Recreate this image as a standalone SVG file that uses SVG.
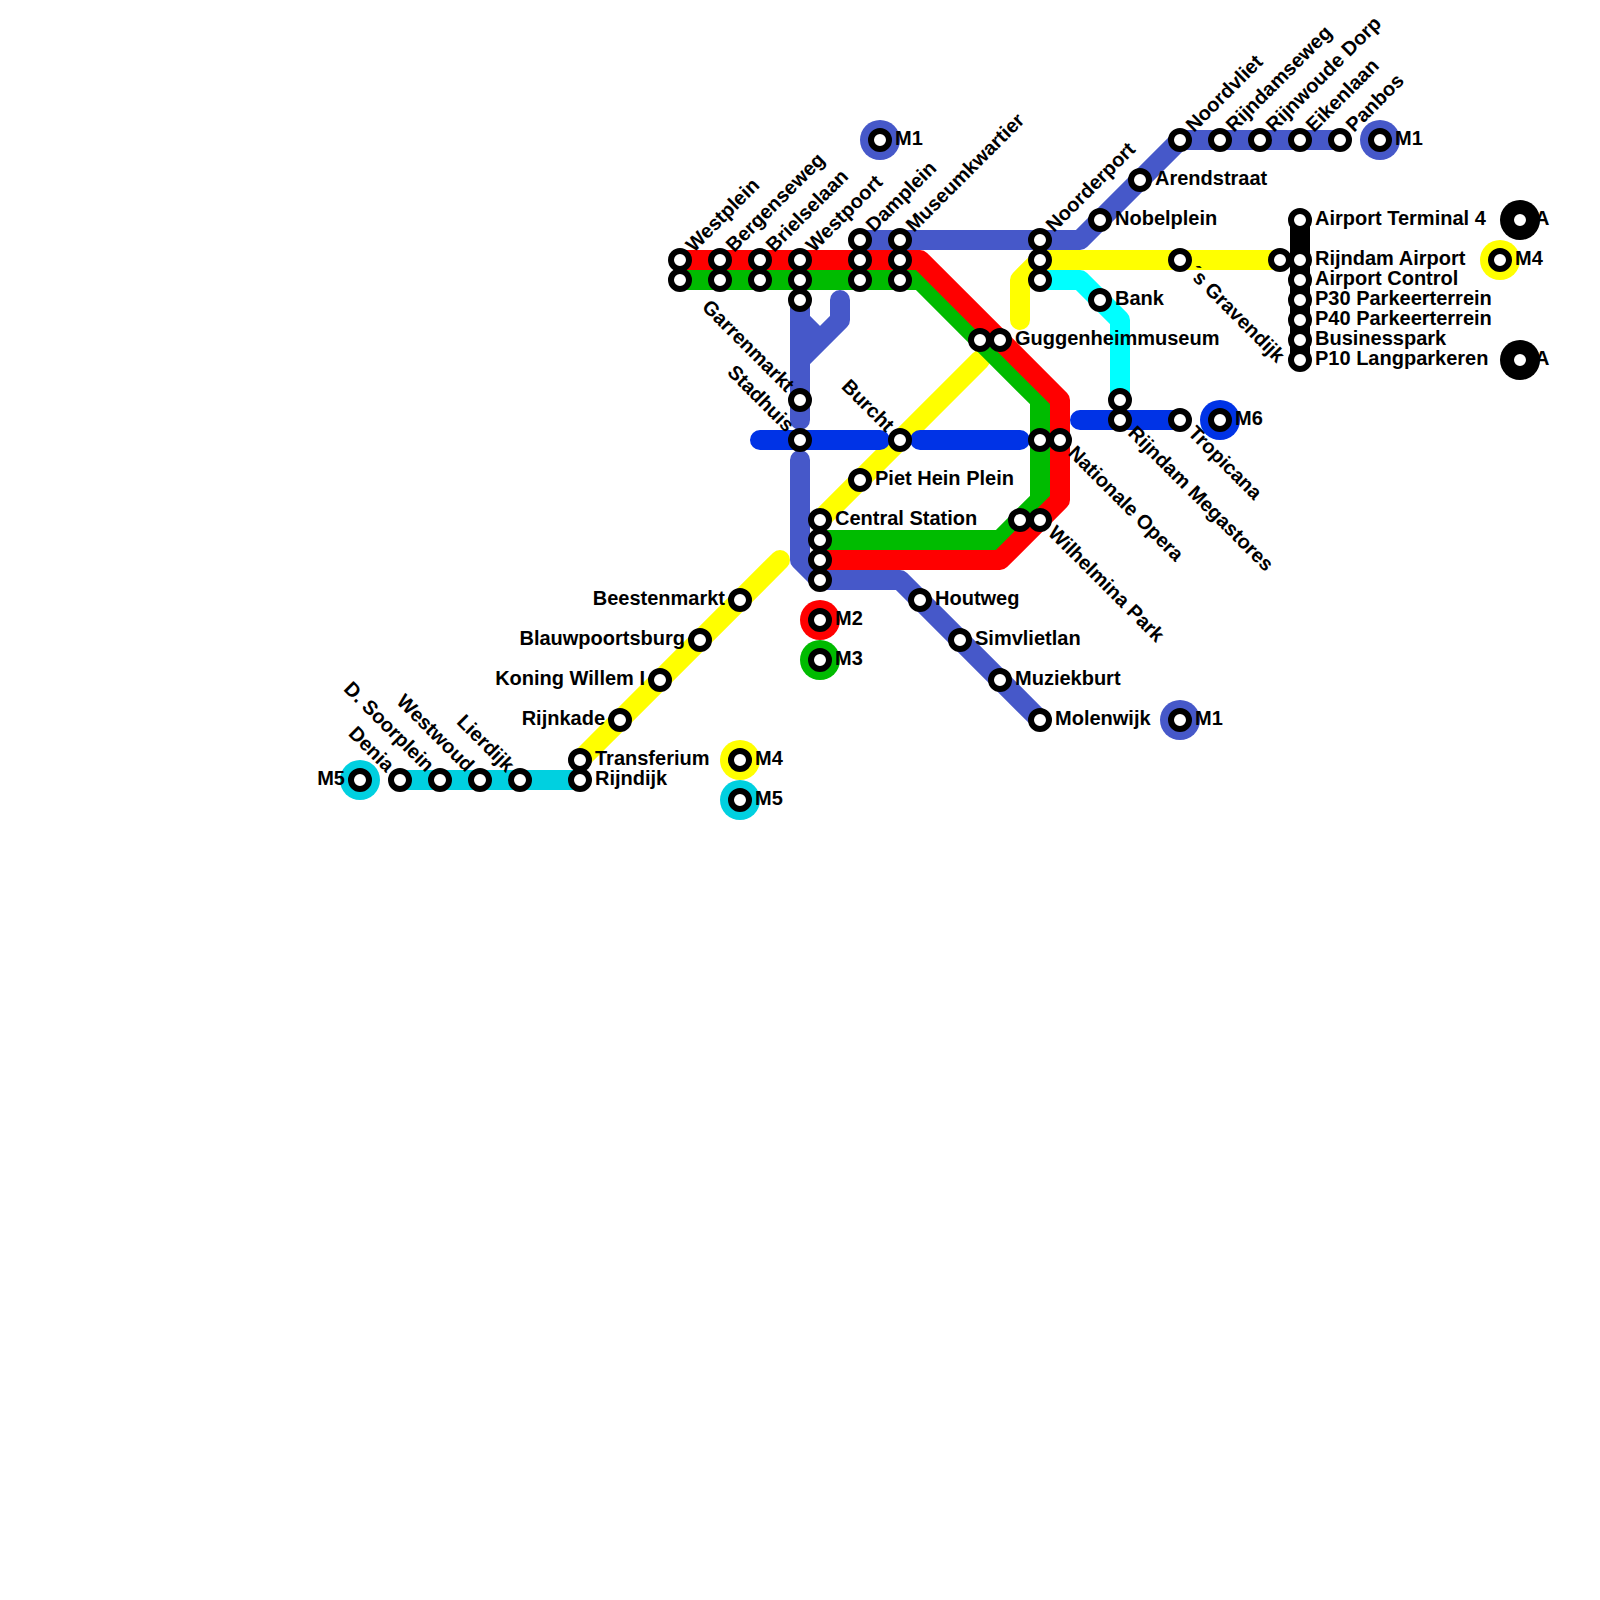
<svg xmlns="http://www.w3.org/2000/svg" width="1600" height="1600" viewBox="0 0 1600 1600">
<style>
text{font-family:"Liberation Sans",Arial,sans-serif;font-size:20px;font-weight:bold;fill:#000}
.l{fill:none;stroke-width:20;stroke-linecap:round;stroke-linejoin:round}
.s{fill:#fff;stroke:#000;stroke-width:6}
.m1{stroke:#4658c9}.m2{stroke:#ff0000}.m3{stroke:#00bb00}.m4{stroke:#ffff00}.m5{stroke:#00d0e0}.m6{stroke:#0033e6}.m7{stroke:#00ffff}.ma{stroke:#000}
.e{text-anchor:end}
</style>
<rect width="1600" height="1600" fill="#fff"/>
<g id="connectors">
<path class="l m4" d="M1280 260H1040L1020 280V320"/>
<path class="l m4" d="M980 360L820 520"/>
<path class="l m4" d="M780 560L580 760"/>
<path class="l m7" d="M1040 280H1080L1120 320V400"/>
<path class="l m5" d="M400 780H580"/>
<path class="l m1" d="M1340 140H1180L1080 240H860"/>
<path class="l m1" d="M800 300V420M800 360L840 320V300M800 320L820 340"/>
<path class="l m1" d="M800 460V560L820 580H900L1040 720"/>
<path class="l m3" d="M680 280H920L1040 400V500L1000 540H820"/>
<path class="l m2" d="M680 260H920L1060 400V500L1000 560H820"/>
<path class="l m6" d="M760 440H880M920 440H1020M1080 420H1180"/>
<path class="l ma" d="M1300 220V360" />
</g>
<g id="westplein"><circle class="s" cx="680" cy="260" r="9"/><circle class="s" cx="680" cy="280" r="9"/><text transform="translate(694 253) rotate(-45)">Westplein</text></g>
<g id="bergenseweg"><circle class="s" cx="720" cy="260" r="9"/><circle class="s" cx="720" cy="280" r="9"/><text transform="translate(734 253) rotate(-45)">Bergenseweg</text></g>
<g id="brielselaan"><circle class="s" cx="760" cy="260" r="9"/><circle class="s" cx="760" cy="280" r="9"/><text transform="translate(774 253) rotate(-45)">Brielselaan</text></g>
<g id="westpoort"><circle class="s" cx="800" cy="260" r="9"/><circle class="s" cx="800" cy="280" r="9"/><text transform="translate(814 253) rotate(-45)">Westpoort</text></g>
<g id="garrenmarkt-top"><circle class="s" cx="800" cy="300" r="9"/></g>
<g id="damplein"><circle class="s" cx="860" cy="240" r="9"/><circle class="s" cx="860" cy="260" r="9"/><circle class="s" cx="860" cy="280" r="9"/><text transform="translate(874 233) rotate(-45)">Damplein</text></g>
<g id="museumkwartier"><circle class="s" cx="900" cy="240" r="9"/><circle class="s" cx="900" cy="260" r="9"/><circle class="s" cx="900" cy="280" r="9"/><text transform="translate(914 233) rotate(-45)">Museumkwartier</text></g>
<g id="noorderport"><circle class="s" cx="1040" cy="240" r="9"/><circle class="s" cx="1040" cy="260" r="9"/><circle class="s" cx="1040" cy="280" r="9"/><text transform="translate(1054 233) rotate(-45)">Noorderport</text></g>
<g id="nobelplein"><circle class="s" cx="1100" cy="220" r="9"/><text x="1115" y="225">Nobelplein</text></g>
<g id="arendstraat"><circle class="s" cx="1140" cy="180" r="9"/><text x="1155" y="185">Arendstraat</text></g>
<g id="noordvliet"><circle class="s" cx="1180" cy="140" r="9"/><text transform="translate(1194 133) rotate(-45)">Noordvliet</text></g>
<g id="rijndamseweg"><circle class="s" cx="1220" cy="140" r="9"/><text transform="translate(1234 133) rotate(-45)">Rijndamseweg</text></g>
<g id="rijnwoude-dorp"><circle class="s" cx="1260" cy="140" r="9"/><text transform="translate(1274 133) rotate(-45)">Rijnwoude Dorp</text></g>
<g id="eikenlaan"><circle class="s" cx="1300" cy="140" r="9"/><text transform="translate(1314 133) rotate(-45)">Eikenlaan</text></g>
<g id="panbos"><circle class="s" cx="1340" cy="140" r="9"/><text transform="translate(1354 133) rotate(-45)">Panbos</text></g>
<g id="term-m1-a"><circle cx="1380" cy="140" r="20" fill="#4658c9"/><circle class="s" cx="1380" cy="140" r="9"/><text x="1395" y="145">M1</text></g>
<g id="term-m1-b"><circle cx="880" cy="140" r="20" fill="#4658c9"/><circle class="s" cx="880" cy="140" r="9"/><text x="895" y="145">M1</text></g>
<g id="term-m1-c"><circle cx="1180" cy="720" r="20" fill="#4658c9"/><circle class="s" cx="1180" cy="720" r="9"/><text x="1195" y="725">M1</text></g>
<g id="bank"><circle class="s" cx="1100" cy="300" r="9"/><text x="1115" y="305">Bank</text></g>
<g id="guggenheimmuseum"><circle class="s" cx="980" cy="340" r="9"/><circle class="s" cx="1000" cy="340" r="9"/><text x="1015" y="345">Guggenheimmuseum</text></g>
<g id="garrenmarkt"><circle class="s" cx="800" cy="400" r="9"/><text class="e" transform="translate(786 393) rotate(45)">Garrenmarkt</text></g>
<g id="stadhuis"><circle class="s" cx="800" cy="440" r="9"/><text class="e" transform="translate(786 433) rotate(45)">Stadhuis</text></g>
<g id="burcht"><circle class="s" cx="900" cy="440" r="9"/><text class="e" transform="translate(886 433) rotate(45)">Burcht</text></g>
<g id="piet-hein-plein"><circle class="s" cx="860" cy="480" r="9"/><text x="875" y="485">Piet Hein Plein</text></g>
<g id="rijndam-megastores"><circle class="s" cx="1120" cy="400" r="9"/><circle class="s" cx="1120" cy="420" r="9"/><text transform="translate(1127 434) rotate(45)">Rijndam Megastores</text></g>
<g id="tropicana"><circle class="s" cx="1180" cy="420" r="9"/><text transform="translate(1187 434) rotate(45)">Tropicana</text></g>
<g id="term-m6"><circle cx="1220" cy="420" r="20" fill="#0033e6"/><circle class="s" cx="1220" cy="420" r="9"/><text x="1235" y="425">M6</text></g>
<g id="nationale-opera"><circle class="s" cx="1040" cy="440" r="9"/><circle class="s" cx="1060" cy="440" r="9"/><text transform="translate(1067 454) rotate(45)">Nationale Opera</text></g>
<g id="wilhelmina-park"><circle class="s" cx="1020" cy="520" r="9"/><circle class="s" cx="1040" cy="520" r="9"/><text transform="translate(1047 534) rotate(45)">Wilhelmina Park</text></g>
<g id="central-station"><circle class="s" cx="820" cy="520" r="9"/><circle class="s" cx="820" cy="540" r="9"/><circle class="s" cx="820" cy="560" r="9"/><circle class="s" cx="820" cy="580" r="9"/><text x="835" y="525">Central Station</text></g>
<g id="term-m2"><circle cx="820" cy="620" r="20" fill="#ff0000"/><circle class="s" cx="820" cy="620" r="9"/><text x="835" y="625">M2</text></g>
<g id="term-m3"><circle cx="820" cy="660" r="20" fill="#00bb00"/><circle class="s" cx="820" cy="660" r="9"/><text x="835" y="665">M3</text></g>
<g id="houtweg"><circle class="s" cx="920" cy="600" r="9"/><text x="935" y="605">Houtweg</text></g>
<g id="simvlietlan"><circle class="s" cx="960" cy="640" r="9"/><text x="975" y="645">Simvlietlan</text></g>
<g id="muziekburt"><circle class="s" cx="1000" cy="680" r="9"/><text x="1015" y="685">Muziekburt</text></g>
<g id="molenwijk"><circle class="s" cx="1040" cy="720" r="9"/><text x="1055" y="725">Molenwijk</text></g>
<g id="gravendijk"><circle class="s" cx="1180" cy="260" r="9"/><circle class="s" cx="1280" cy="260" r="9"/><text transform="translate(1187 274) rotate(45)">´s Gravendijk</text></g>
<g id="airport-terminal-4"><circle class="s" cx="1300" cy="220" r="9"/><text x="1315" y="225">Airport Terminal 4</text></g>
<g id="rijndam-airport"><circle class="s" cx="1300" cy="260" r="9"/><text x="1315" y="265">Rijndam Airport</text></g>
<g id="airport-control"><circle class="s" cx="1300" cy="280" r="9"/><text x="1315" y="285">Airport Control</text></g>
<g id="p30"><circle class="s" cx="1300" cy="300" r="9"/><text x="1315" y="305">P30 Parkeerterrein</text></g>
<g id="p40"><circle class="s" cx="1300" cy="320" r="9"/><text x="1315" y="325">P40 Parkeerterrein</text></g>
<g id="businesspark"><circle class="s" cx="1300" cy="340" r="9"/><text x="1315" y="345">Businesspark</text></g>
<g id="p10"><circle class="s" cx="1300" cy="360" r="9"/><text x="1315" y="365">P10 Langparkeren</text></g>
<g id="term-a1"><circle cx="1520" cy="220" r="20" fill="#000"/><circle class="s" cx="1520" cy="220" r="9"/><text x="1535" y="225">A</text></g>
<g id="term-a2"><circle cx="1520" cy="360" r="20" fill="#000"/><circle class="s" cx="1520" cy="360" r="9"/><text x="1535" y="365">A</text></g>
<g id="term-m4-a"><circle cx="1500" cy="260" r="20" fill="#ffff00"/><circle class="s" cx="1500" cy="260" r="9"/><text x="1515" y="265">M4</text></g>
<g id="beestenmarkt"><circle class="s" cx="740" cy="600" r="9"/><text class="e" x="725" y="605">Beestenmarkt</text></g>
<g id="blauwpoortsburg"><circle class="s" cx="700" cy="640" r="9"/><text class="e" x="685" y="645">Blauwpoortsburg</text></g>
<g id="koning-willem-i"><circle class="s" cx="660" cy="680" r="9"/><text class="e" x="645" y="685">Koning Willem I</text></g>
<g id="rijnkade"><circle class="s" cx="620" cy="720" r="9"/><text class="e" x="605" y="725">Rijnkade</text></g>
<g id="transferium"><circle class="s" cx="580" cy="760" r="9"/><text x="595" y="765">Transferium</text></g>
<g id="rijndijk"><circle class="s" cx="580" cy="780" r="9"/><text x="595" y="785">Rijndijk</text></g>
<g id="lierdijk"><circle class="s" cx="520" cy="780" r="9"/><text class="e" transform="translate(506 773) rotate(45)">Lierdijk</text></g>
<g id="westwoud"><circle class="s" cx="480" cy="780" r="9"/><text class="e" transform="translate(466 773) rotate(45)">Westwoud</text></g>
<g id="d-soorplein"><circle class="s" cx="440" cy="780" r="9"/><text class="e" transform="translate(426 773) rotate(45)">D. Soorplein</text></g>
<g id="denia"><circle class="s" cx="400" cy="780" r="9"/><text class="e" transform="translate(386 773) rotate(45)">Denia</text></g>
<g id="term-m5-a"><circle cx="360" cy="780" r="20" fill="#00d0e0"/><circle class="s" cx="360" cy="780" r="9"/><text class="e" x="345" y="785">M5</text></g>
<g id="term-m4-b"><circle cx="740" cy="760" r="20" fill="#ffff00"/><circle class="s" cx="740" cy="760" r="9"/><text x="755" y="765">M4</text></g>
<g id="term-m5-b"><circle cx="740" cy="800" r="20" fill="#00d0e0"/><circle class="s" cx="740" cy="800" r="9"/><text x="755" y="805">M5</text></g>
</svg>
